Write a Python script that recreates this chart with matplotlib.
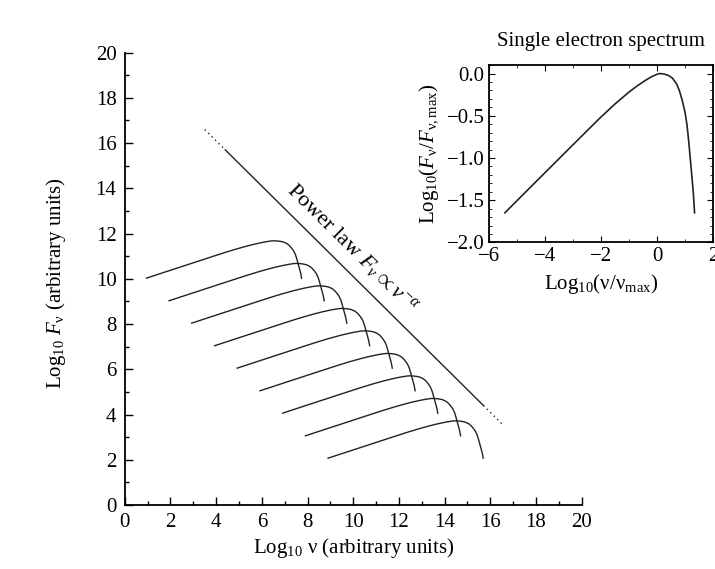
import matplotlib
matplotlib.use("Agg")
import matplotlib.pyplot as plt
from matplotlib.ticker import MultipleLocator, FuncFormatter
import numpy as np

plt.rcParams['font.family'] = ['Liberation Serif', 'DejaVu Serif']
plt.rcParams['mathtext.fontset'] = 'custom'
plt.rcParams['mathtext.rm'] = 'Liberation Serif'
plt.rcParams['mathtext.it'] = 'Liberation Serif:italic'
plt.rcParams['mathtext.bf'] = 'Liberation Serif:bold'

# single electron spectrum: log10(nu/nu_max), log10(F/F_max)
spec_logx = [-5.45, -4.5, -3.5, -2.5, -2.0, -1.5, -1.0, -0.7, -0.4, -0.2, 0.0, 0.1,
             0.25, 0.4, 0.55, 0.7, 0.8, 0.9, 1.0, 1.07, 1.13, 1.19, 1.25, 1.30, 1.34]
spec_logy = [-1.65, -1.335, -1.005, -0.675, -0.512, -0.358, -0.218, -0.143, -0.077, -0.038, -0.008, 0.0,
             -0.006, -0.022, -0.055, -0.125, -0.205, -0.32, -0.46, -0.61, -0.80, -1.02, -1.24, -1.43, -1.65]

# peak position of each electron's spectrum in the main panel
peak_logv = [6.40, 7.39, 8.38, 9.38, 10.37, 11.37, 12.36, 13.36, 14.35]
peak_logF = [11.68, 10.68, 9.69, 8.69, 7.70, 6.70, 5.71, 4.71, 3.72]

# power law envelope F ~ nu^-alpha
pl_logv = [3.5, 4.4, 15.7, 16.6]
pl_logF = [16.6, 15.7, 4.4, 3.5]

fs = 15

fig = plt.figure(figsize=(7.15, 5.69), dpi=100)
ax = fig.add_axes([0.1745, 0.1125, 0.639, 0.795])

sx = np.array(spec_logx)
sy = np.array(spec_logy)
for px, py in zip(peak_logv, peak_logF):
    ax.plot(sx + px, sy + py, color='#222222', lw=1.0)

ax.plot(pl_logv[1:3], pl_logF[1:3], color='#222222', lw=1.0)
ax.plot(pl_logv[0:2], pl_logF[0:2], color='#222222', lw=1.0, ls=(0, (1, 2.5)))
ax.plot(pl_logv[2:4], pl_logF[2:4], color='#222222', lw=1.0, ls=(0, (1, 2.5)))
ax.text(9.95, 11.35, r'Power law $F_\mathit{\nu} \propto \mathit{\nu}^{-\mathit{\alpha}}$',
        rotation=-44.7, rotation_mode='anchor', ha='center', va='center', fontsize=fs + 1)

ax.set_xlim(0, 20)
ax.set_ylim(0, 20)
for s in ['top', 'right']:
    ax.spines[s].set_visible(False)
for s in ['left', 'bottom']:
    ax.spines[s].set_linewidth(1.3)
ax.xaxis.set_major_locator(MultipleLocator(2))
ax.xaxis.set_minor_locator(MultipleLocator(1))
ax.yaxis.set_major_locator(MultipleLocator(2))
ax.yaxis.set_minor_locator(MultipleLocator(1))
ax.tick_params(which='both', direction='in', labelsize=fs, width=1.0, pad=6)
ax.tick_params(which='major', length=6)
ax.tick_params(which='minor', length=3)
ax.set_xlabel(r'Log$_{10}$ ν (arbitrary units)', fontsize=fs, labelpad=3)
ax.set_ylabel(r'Log$_{10}$ $F_\mathrm{\nu}$ (arbitrary units)', fontsize=fs)
ax.yaxis.set_label_coords(-0.125, 0.49)

# inset
minus = FuncFormatter(lambda v, p: ('%.1f' % v).replace('-', '\u2212'))
ins = fig.add_axes([0.6846, 0.574, 0.3126, 0.3116])
ins.plot(spec_logx, spec_logy, color='#222222', lw=1.2)
ins.set_xlim(-6, 2)
ins.set_ylim(-2.0, 0.1)
ins.xaxis.set_major_locator(MultipleLocator(2))
ins.xaxis.set_minor_locator(MultipleLocator(1))
ins.yaxis.set_major_locator(MultipleLocator(0.5))
ins.yaxis.set_minor_locator(MultipleLocator(0.1))
ins.yaxis.set_major_formatter(minus)
ins.tick_params(which='both', direction='in', top=True, right=True, labelsize=fs)
ins.tick_params(which='major', length=4)
ins.tick_params(which='minor', length=2)
for s in ins.spines.values():
    s.set_linewidth(1.3)
ins.set_title('Single electron spectrum', fontsize=fs, pad=14)
ins.set_xlabel(r'Log$_{10}$(ν/ν$_\mathrm{max}$)', fontsize=fs)
ins.set_ylabel(r'Log$_{10}$($F_\mathrm{\nu}$/$F_\mathrm{\nu,max}$)', fontsize=fs, labelpad=4)

fig.savefig('out.png', dpi=100)
